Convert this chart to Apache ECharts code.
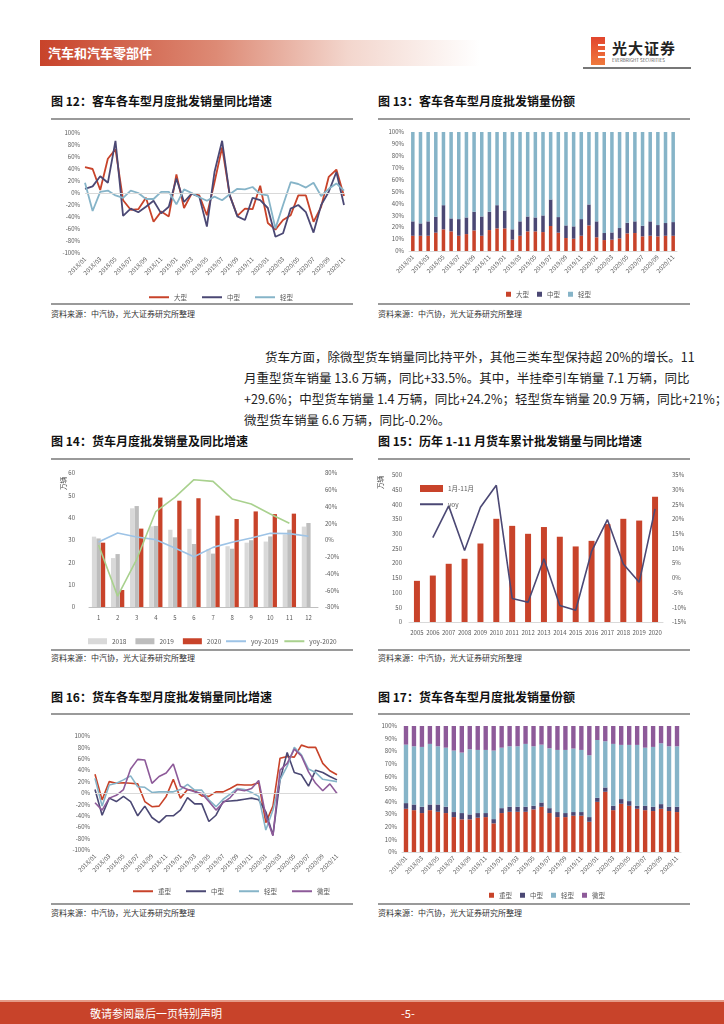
<!DOCTYPE html>
<html><head><meta charset="utf-8">
<script src="https://cdn.jsdelivr.net/npm/echarts/dist/echarts.min.js"></script>
<style>
html,body{margin:0;padding:0;background:#fff;}
body{width:724px;height:1024px;position:relative;overflow:hidden;font-family:"Noto Sans CJK SC","Noto Sans",sans-serif;}
.abs{position:absolute;}
.title{position:absolute;font-size:12px;font-weight:bold;color:#111;white-space:nowrap;line-height:14px;}
.hr{position:absolute;height:2px;background:#9a9a9a;}
.src{position:absolute;font-size:8px;color:#333;white-space:nowrap;line-height:10px;}
.para{position:absolute;left:244px;width:436px;font-size:12.5px;color:#222;line-height:16px;white-space:nowrap;}
.just{text-align:justify;text-align-last:justify;}
.chart{position:absolute;}
</style>
</head><body>
<!-- header -->
<div class="abs" style="left:40px;top:40px;width:440px;height:26px;background:linear-gradient(90deg,#c8432a 0%,#dd8a75 40%,#f3d6cd 70%,#ffffff 100%);"></div>
<div class="abs" style="left:48px;top:44px;font-size:13px;font-weight:bold;color:#fff;line-height:18px;">汽车和汽车零部件</div>
<div class="abs" style="left:591px;top:37px;width:14px;height:28px;background:linear-gradient(180deg,#e2452d,#ef7a3d);"></div>
<div class="abs" style="left:598px;top:44px;width:7px;height:2px;background:#fff;"></div>
<div class="abs" style="left:598px;top:50px;width:7px;height:2px;background:#fff;"></div>
<div class="abs" style="left:598px;top:56px;width:7px;height:2px;background:#fff;"></div>
<div class="abs" style="left:612px;top:39px;font-size:15px;font-weight:bold;color:#222;line-height:18px;letter-spacing:1px;">光大证券</div>
<div class="abs" style="left:612px;top:57px;font-size:4.5px;color:#555;line-height:6px;white-space:nowrap;">EVERBRIGHT SECURITIES</div>
<div class="abs" style="left:583px;top:67px;width:108px;height:1.5px;background:#777;"></div>

<!-- chart titles and rules -->
<div class="title" style="left:51px;top:94px;">图 12：客车各车型月度批发销量同比增速</div>
<div class="hr" style="left:51px;top:118px;width:302px;"></div>
<div class="hr" style="left:51px;top:303px;width:302px;"></div>
<div class="src" style="left:51px;top:309px;">资料来源：中汽协，光大证券研究所整理</div>

<div class="title" style="left:378px;top:94px;">图 13：客车各车型月度批发销量份额</div>
<div class="hr" style="left:378px;top:118px;width:312px;"></div>
<div class="hr" style="left:378px;top:303px;width:312px;"></div>
<div class="src" style="left:378px;top:309px;">资料来源：中汽协，光大证券研究所整理</div>

<div class="para just" style="top:349px;left:265px;width:415px;">货车方面，除微型货车销量同比持平外，其他三类车型保持超 20%的增长。11</div>
<div class="para just" style="top:370px;">月重型货车销量 13.6 万辆，同比+33.5%。其中，半挂牵引车销量 7.1 万辆，同比</div>
<div class="para just" style="top:391px;">+29.6%；中型货车销量 1.4 万辆，同比+24.2%；轻型货车销量 20.9 万辆，同比+21%；</div>
<div class="para" style="top:412px;">微型货车销量 6.6 万辆，同比-0.2%。</div>

<div class="title" style="left:51px;top:434px;">图 14：货车月度批发销量及同比增速</div>
<div class="hr" style="left:51px;top:458px;width:302px;"></div>
<div class="hr" style="left:51px;top:649px;width:302px;"></div>
<div class="src" style="left:51px;top:653px;">资料来源：中汽协，光大证券研究所整理</div>

<div class="title" style="left:378px;top:434px;">图 15：历年 1-11 月货车累计批发销量与同比增速</div>
<div class="hr" style="left:378px;top:458px;width:312px;"></div>
<div class="hr" style="left:378px;top:649px;width:312px;"></div>
<div class="src" style="left:378px;top:653px;">资料来源：中汽协，光大证券研究所整理</div>

<div class="title" style="left:51px;top:690px;">图 16：货车各车型月度批发销量同比增速</div>
<div class="hr" style="left:51px;top:713px;width:302px;"></div>
<div class="hr" style="left:51px;top:903px;width:302px;"></div>
<div class="src" style="left:51px;top:908px;">资料来源：中汽协，光大证券研究所整理</div>

<div class="title" style="left:378px;top:690px;">图 17：货车各车型月度批发销量份额</div>
<div class="hr" style="left:378px;top:713px;width:312px;"></div>
<div class="hr" style="left:378px;top:903px;width:312px;"></div>
<div class="src" style="left:378px;top:908px;">资料来源：中汽协，光大证券研究所整理</div>

<!-- footer -->
<div class="abs" style="left:0;top:1000px;width:724px;height:2px;background:#e59a88;"></div>
<div class="abs" style="left:0;top:1002px;width:724px;height:22px;background:#c8432a;"></div>
<div class="abs" style="left:90px;top:1005px;font-size:11px;color:#fff;line-height:16px;">敬请参阅最后一页特别声明</div>
<div class="abs" style="left:401px;top:1005px;font-size:11px;color:#fff;line-height:16px;">-5-</div>

<div id="c12" class="chart" style="left:40px;top:120px;width:320px;height:182px;"></div>
<div id="c13" class="chart" style="left:368px;top:120px;width:330px;height:182px;"></div>
<div id="c14" class="chart" style="left:40px;top:460px;width:320px;height:188px;"></div>
<div id="c15" class="chart" style="left:368px;top:460px;width:330px;height:188px;"></div>
<div id="c16" class="chart" style="left:40px;top:714px;width:320px;height:188px;"></div>
<div id="c17" class="chart" style="left:368px;top:714px;width:330px;height:188px;"></div>

<script>
// ---------- data ----------
const months = ['2018/01','2018/02','2018/03','2018/04','2018/05','2018/06','2018/07','2018/08','2018/09','2018/10','2018/11','2018/12',
'2019/01','2019/02','2019/03','2019/04','2019/05','2019/06','2019/07','2019/08','2019/09','2019/10','2019/11','2019/12',
'2020/01','2020/02','2020/03','2020/04','2020/05','2020/06','2020/07','2020/08','2020/09','2020/10','2020/11'];

// 图12 客车同比 (%)
const busYoyLarge = [43,40,5,57,73,-12,-28,-27,-8,-48,-31,-39,31,-25,-1,-4,-37,18,76,-4,-38,-26,-27,12,-50,-61,-45,-37,-4,-4,-48,-23,27,39,-5];
const busYoyMid   = [7,11,28,17,87,-38,-26,-32,-23,-13,-34,-23,24,-15,-1,-6,-56,35,87,-4,-39,-45,-8,-12,-25,-73,-67,-26,-20,-32,-66,-20,2,35,-20];
const busYoyLight = [17,-30,2,4,-4,-8,4,0,-10,-10,2,2,-19,6,0,-7,-13,-6,-12,-2,7,6,10,-2,-4,-59,-20,18,15,9,17,-5,7,16,4];

// 图13 客车份额 (%)
const busShareLarge = [12.8,12.8,12.8,15.4,18.2,16.5,12.8,14.2,17.3,12.8,17.6,19,19,9.5,12.8,16.5,16.5,15.9,21,15.4,10.9,10.3,12.8,21.5,11.5,9.2,9.5,10.6,14.8,15.1,12.3,12.8,12.3,12.8,12.8];
const busShareMid   = [12.1,10.4,12.1,13.4,20.3,10.9,14,14,15.7,16.2,15.4,19.5,15,8.7,12.1,12.5,11.7,14,22.3,13.1,10.6,10.4,14,17.6,13.4,5.9,6.1,8.7,8.9,9.8,8.9,12.1,9.5,10.7,11.5];
const busShareLight = [75.1,76.8,75.1,71.2,61.5,72.6,73.2,71.8,67,71,67,61.5,66,81.8,75.1,71,71.8,70.1,56.7,71.5,78.5,79.3,73.2,60.9,75.1,84.9,84.4,80.7,76.3,75.1,78.8,75.1,78.2,76.5,75.7];

// 图14 货车月度销量 (万辆) 与同比 (%)
const monthNums = ['1','2','3','4','5','6','7','8','9','10','11','12'];
const truck2018 = [31.5,21.9,44.2,36.1,34.6,35,26,27.2,28.8,29.3,32.5,36];
const truck2019 = [30.7,23.7,45.2,36.3,31.2,28.2,23.9,26.1,29.9,31.6,34.6,37.6];
const truck2020 = [28.8,7.6,35.1,49,47.6,48.7,40.9,39.4,42.8,41.6,41.8];
const yoy2019 = [-2.4,8.4,3.6,0.4,-9.6,-20,-8.8,-2.8,2.4,8,7.6,4.4];
const yoy2020 = [-6,-67,-23,34,51,72,70,49,43,31,20];

// 图15 历年1-11月累计 (万辆) 与同比 (%)
const years = ['2005','2006','2007','2008','2009','2010','2011','2012','2013','2014','2015','2016','2017','2018','2019','2020'];
const truckCum = [140,158,198,215,267,351,327,300,323,290,257,276,333,351,345,426];
const truckCumYoy = [null,13.7,24.5,9.3,24,31.5,-7,-8.3,6.5,-9.4,-11,9,19.8,4.7,-1.5,23.5];

// 图16 货车同比 (%)
const truckYoyHeavy = [33,-12,20,17,18,17,16,-15,-24,-23,-6,24,-9,6,4,-5,-6,2,2,8,15,14,14,18,-52,-23,61,64,63,84,80,80,52,39,32];
const truckYoyMid   = [6,-39,-9,-15,-6,-15,-40,-23,-43,-52,-40,-40,-30,-8,-19,-19,-50,-39,-15,-14,-13,-11,-9,-12,-33,-74,23,71,36,32,12,40,36,29,23];
const truckYoyLight = [26,-23,14,17,23,30,11,10,1,2,2,2,6,15,5,5,-12,-24,-11,-2,8,6,1,-6,-65,-30,23,47,80,67,42,36,24,22,20];
const truckYoyMicro = [-17,-30,-9,-4,6,42,59,58,17,29,35,51,12,6,2,-1,-15,-30,-17,-8,6,4,8,22,-40,-75,40,52,77,65,37,17,4,16,-1];

// 图17 货车份额 (%)
const truckShareHeavy = [34.3,33.2,30.9,33.2,31.9,30.9,27.7,25.9,25.9,27.2,27.7,22.7,30.9,31.9,31.9,31.9,33.8,35.9,30.9,27.7,27.7,28.8,28.8,24,39.8,47.8,33.2,38.3,36.7,34.3,33.2,32.5,34.3,32.5,31.7];
const truckShareMid   = [4.5,4.5,5,4.5,5.8,5,4,5,3.9,3.7,3.2,3.4,3.9,4,4,4,2.9,3.4,3.9,4,3.2,2.9,2.9,3.7,3.2,3.4,3.5,3.7,3.7,2.4,3.5,3.4,3.7,3.4,4.2];
const truckShareLight = [46.4,46.2,47.5,48.1,46.2,46.9,48.8,48,51.7,50.1,50.1,54.4,48,48,48,49.9,47.2,45.9,47.5,49.3,50.1,50.4,49.3,49.1,45.9,36.7,49.1,43,44.6,48.3,46.1,47.5,48.3,48,48];
const truckShareMicro = [14.8,16.1,16.6,14.2,16.1,17.2,19.5,21.1,18.5,19,19,19.5,17.2,16.1,16.1,14.2,16.1,14.8,17.7,19,19,17.9,19,23.2,11.1,12.1,14.2,15,15,15,17.2,16.6,13.7,16.1,16.1];

// ---------- style ----------
const RED = '#c8432a', NAVY = '#4b4874', LBLUE = '#86b4c8', PURPLE = '#8d5a99';
const FONT = '"Noto Sans CJK SC","Noto Sans",sans-serif';
const LBL = {fontSize:6, color:'#595959', fontFamily:FONT};
const LEG = {fontSize:6.5, color:'#595959', fontFamily:FONT};
const pctAxis = (min,max,interval,extra) => Object.assign({
  type:'value', min, max, interval,
  axisLabel:Object.assign({formatter:'{value}%', margin:5}, LBL),
  axisLine:{show:false}, axisTick:{show:false}, splitLine:{show:false}
}, extra||{});
const monthAxis = (gap, extra) => Object.assign({
  type:'category', data:months, boundaryGap:gap,
  axisTick:{show:false},
  axisLabel:Object.assign({interval:1, rotate:45, margin:5}, LBL)
}, extra||{});
const line = (name, data, color, w, extra) => Object.assign({
  name, type:'line', data, symbol:'none', smooth:false, lineStyle:{color, width:w}, itemStyle:{color}, animation:false
}, extra||{});
const zeroLine = {silent:true, symbol:'none', label:{show:false}, lineStyle:{color:'#d9d9d9', width:1, type:'solid'}, data:[{yAxis:0}]};
const lineLegend = (extra) => Object.assign({icon:'rect', itemWidth:20, itemHeight:2, textStyle:LEG}, extra);

// 图12
echarts.init(document.getElementById('c12')).setOption({
  animation:false,
  grid:{left:45, top:13, width:259, height:120},
  xAxis: monthAxis(false, {axisLine:{show:false}}),
  yAxis: pctAxis(-100,100,20),
  legend: lineLegend({top:169, left:104, itemGap:15, data:['大型','中型','轻型']}),
  series:[
    line('大型', busYoyLarge, RED, 1.8, {markLine:zeroLine}),
    line('中型', busYoyMid, NAVY, 1.8),
    line('轻型', busYoyLight, LBLUE, 1.8)
  ]
});

// 图13
const stackBar = (name, data, color, w) => ({name, type:'bar', stack:'s', data, barWidth:w, itemStyle:{color}, animation:false});
echarts.init(document.getElementById('c13')).setOption({
  animation:false,
  grid:{left:41, top:12, width:268, height:119},
  xAxis: monthAxis(true, {axisLine:{show:true, lineStyle:{color:'#d9d9d9'}}}),
  yAxis: pctAxis(0,100,10),
  legend:{top:166, left:133, itemGap:8, itemWidth:5, itemHeight:5, icon:'rect', textStyle:LEG, data:['大型','中型','轻型']},
  series:[
    stackBar('大型', busShareLarge, RED, '46%'),
    stackBar('中型', busShareMid, NAVY, '46%'),
    stackBar('轻型', busShareLight, LBLUE, '46%')
  ]
});

// 图14
echarts.init(document.getElementById('c14')).setOption({
  animation:false,
  grid:{left:49, top:13, width:229, height:134},
  xAxis:{type:'category', data:monthNums, axisTick:{show:false}, axisLine:{lineStyle:{color:'#bfbfbf'}},
    axisLabel:Object.assign({margin:8}, LBL)},
  yAxis:[
    {type:'value', min:0, max:60, interval:10, axisLabel:Object.assign({margin:14}, LBL), axisLine:{show:false}, axisTick:{show:false}, splitLine:{show:false}},
    pctAxis(-80,80,20,{position:'right', axisLabel:Object.assign({formatter:'{value}%', margin:7}, LBL)})
  ],
  graphic:[{type:'text', left:20, top:17, rotation:Math.PI/2, style:{text:'万辆', fontSize:6.5, fill:'#333', fontFamily:FONT}}],
  legend:[
    {top:173, left:43, itemGap:9, itemWidth:19, itemHeight:6, icon:'rect', textStyle:LEG, data:['2018','2019','2020']},
    lineLegend({top:173, left:181, itemGap:6, data:['yoy-2019','yoy-2020']})
  ],
  series:[
    {name:'2018', type:'bar', data:truck2018, barWidth:4.3, barGap:'5%', itemStyle:{color:'#d9d9d9'}},
    {name:'2019', type:'bar', data:truck2019, barWidth:4.3, barGap:'5%', itemStyle:{color:'#bdbdbd'}},
    {name:'2020', type:'bar', data:truck2020, barWidth:4.3, barGap:'5%', itemStyle:{color:RED}},
    line('yoy-2019', yoy2019, '#9dc3e6', 1.6, {yAxisIndex:1}),
    line('yoy-2020', yoy2020, '#a9d18e', 1.6, {yAxisIndex:1})
  ]
});

// 图15
echarts.init(document.getElementById('c15')).setOption({
  animation:false,
  grid:{left:41, top:15, width:254, height:147},
  xAxis:{type:'category', data:years, axisTick:{show:false}, axisLine:{lineStyle:{color:'#d9d9d9'}},
    axisLabel:Object.assign({margin:8, interval:0}, LBL)},
  yAxis:[
    {type:'value', min:0, max:500, interval:50, axisLabel:Object.assign({margin:7}, LBL), axisLine:{show:false}, axisTick:{show:false}, splitLine:{show:false}},
    pctAxis(-15,35,5,{position:'right', axisLabel:Object.assign({formatter:'{value}%', margin:9}, LBL)})
  ],
  graphic:[{type:'text', left:9, top:16, rotation:Math.PI/2, style:{text:'万辆', fontSize:6.5, fill:'#333', fontFamily:FONT}}],
  legend:[
    {top:20, left:47, itemWidth:23, itemHeight:7, icon:'rect', textStyle:LEG, data:['1月-11月']},
    lineLegend({top:36, left:47, itemWidth:23, data:['yoy']})
  ],
  series:[
    {name:'1月-11月', type:'bar', data:truckCum, barWidth:6, itemStyle:{color:RED}},
    line('yoy', truckCumYoy, NAVY, 1.6, {yAxisIndex:1})
  ]
});

// 图16
echarts.init(document.getElementById('c16')).setOption({
  animation:false,
  grid:{left:55, top:22, width:242, height:114},
  xAxis: monthAxis(false, {axisLine:{show:false}}),
  yAxis: pctAxis(-100,100,20),
  legend: lineLegend({top:169, left:88, itemGap:15, data:['重型','中型','轻型','微型']}),
  series:[
    line('重型', truckYoyHeavy, RED, 1.6, {markLine:zeroLine}),
    line('中型', truckYoyMid, NAVY, 1.6),
    line('轻型', truckYoyLight, LBLUE, 1.6),
    line('微型', truckYoyMicro, PURPLE, 1.6)
  ]
});

// 图17
echarts.init(document.getElementById('c17')).setOption({
  animation:false,
  grid:{left:34, top:12, width:279, height:126},
  xAxis: monthAxis(true, {axisLine:{show:true, lineStyle:{color:'#d9d9d9'}}}),
  yAxis: pctAxis(0,100,10),
  legend:{top:173, left:116, itemGap:8, itemWidth:5, itemHeight:5, icon:'rect', textStyle:LEG, data:['重型','中型','轻型','微型']},
  series:[
    stackBar('重型', truckShareHeavy, RED, '55%'),
    stackBar('中型', truckShareMid, NAVY, '55%'),
    stackBar('轻型', truckShareLight, LBLUE, '55%'),
    stackBar('微型', truckShareMicro, PURPLE, '55%')
  ]
});
</script>
</body></html>
